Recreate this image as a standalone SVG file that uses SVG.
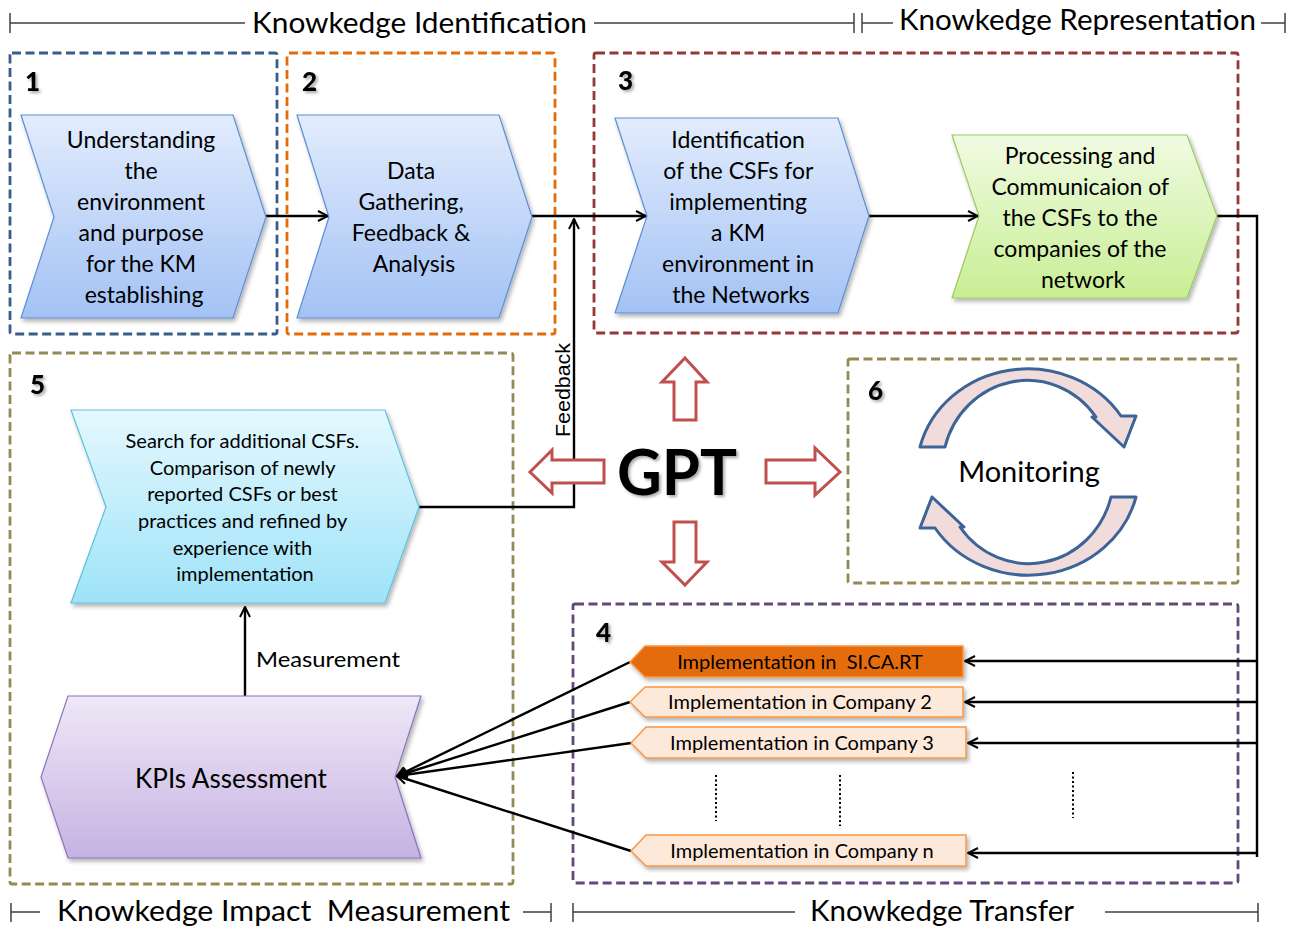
<svg xmlns="http://www.w3.org/2000/svg" width="1304" height="928" viewBox="0 0 1304 928">
  <defs>
    <linearGradient id="gBlue" x1="0" y1="0" x2="0" y2="1">
      <stop offset="0" stop-color="#E2ECFD"/>
      <stop offset="1" stop-color="#A3C2F4"/>
    </linearGradient>
    <linearGradient id="gGreen" x1="0" y1="0" x2="0" y2="1">
      <stop offset="0" stop-color="#F0FBE2"/>
      <stop offset="1" stop-color="#C8EE94"/>
    </linearGradient>
    <linearGradient id="gCyan" x1="0" y1="0" x2="0" y2="1">
      <stop offset="0" stop-color="#E4F8FE"/>
      <stop offset="1" stop-color="#9EE3F8"/>
    </linearGradient>
    <linearGradient id="gPurple" x1="0" y1="0" x2="0" y2="1">
      <stop offset="0" stop-color="#EEE8F7"/>
      <stop offset="1" stop-color="#C6B2E2"/>
    </linearGradient>
    <filter id="shadow" x="-10%" y="-10%" width="125%" height="130%">
      <feDropShadow dx="2" dy="3" stdDeviation="2" flood-color="#000" flood-opacity="0.3"/>
    </filter>
    <filter id="txtShadow" x="-20%" y="-20%" width="150%" height="150%">
      <feDropShadow dx="2" dy="2" stdDeviation="1.5" flood-color="#000" flood-opacity="0.35"/>
    </filter>
    <marker id="arr" viewBox="0 0 12 12" refX="11" refY="6" markerWidth="12" markerHeight="12" markerUnits="userSpaceOnUse" orient="auto">
      <path d="M1,1 L11,6 L1,11" fill="none" stroke="#000" stroke-width="2"/>
    </marker>
  </defs>
  <style>
    .t{font-family:Lato,"Liberation Sans",sans-serif;fill:#000}
    .c{text-anchor:middle}
    .num{font-family:Lato,"Liberation Sans",sans-serif;font-weight:900;font-size:26px;fill:#000}
    .box{fill:none;stroke-width:2.8;stroke-dasharray:9 4.5}
    .conn{fill:none;stroke:#000;stroke-width:2.4}
    .scale{fill:none;stroke:#404040;stroke-width:1.5}
    .blk{fill:#fff;stroke:#C0504D;stroke-width:3;stroke-linejoin:miter}
    .node23{font-size:23px}
    .small{font-size:20px}
    .phase{font-size:28px}
  </style>

  <rect width="1304" height="928" fill="#fff"/>

  <!-- phase scales along the top and bottom -->
  <g id="phases">
    <path class="scale" d="M10,13 V33 M10,23 H245 M594,23 H854 M854,13 V33 M862,13 V33 M862,23 H893 M1261,23 H1285 M1285,13 V33"/>
    <text class="t phase" x="252" y="33" textLength="335" lengthAdjust="spacingAndGlyphs">Knowkedge Identification</text>
    <text class="t phase" x="899" y="30" textLength="357" lengthAdjust="spacingAndGlyphs">Knowkedge Representation</text>
    <path class="scale" d="M11,903 V922 M11,912 H40 M523,912 H551 M551,903 V922 M573,903 V922 M573,912 H795 M1105,912 H1258 M1258,903 V922"/>
    <text class="t phase" x="57" y="921" textLength="453" lengthAdjust="spacingAndGlyphs">Knowkedge Impact&#160; Measurement</text>
    <text class="t phase" x="810" y="921" textLength="264" lengthAdjust="spacingAndGlyphs">Knowkedge Transfer</text>
  </g>

  <!-- dashed phase frames -->
  <g id="frames">
    <rect class="box" x="10" y="53" width="267" height="281" rx="2" stroke="#385D8A"/>
    <rect class="box" x="287" y="53" width="268" height="281" rx="2" stroke="#E36C09"/>
    <rect class="box" x="594" y="53" width="644" height="280" rx="2" stroke="#953735"/>
    <rect class="box" x="10" y="353" width="503" height="531" rx="2" stroke="#948A54"/>
    <rect class="box" x="848" y="359" width="390" height="224" rx="2" stroke="#948A54"/>
    <rect class="box" x="573" y="604" width="665" height="279" rx="2" stroke="#604A7B"/>
    <text class="num" x="25" y="91" filter="url(#txtShadow)">1</text>
    <text class="num" x="302" y="91" filter="url(#txtShadow)">2</text>
    <text class="num" x="618" y="90" filter="url(#txtShadow)">3</text>
    <text class="num" x="30" y="394" filter="url(#txtShadow)">5</text>
    <text class="num" x="868" y="400" filter="url(#txtShadow)">6</text>
    <text class="num" x="596" y="642" filter="url(#txtShadow)">4</text>
  </g>

  <!-- connectors -->
  <g id="connectors">
    <path class="conn" d="M266,216 H328" marker-end="url(#arr)"/>
    <path class="conn" d="M532,216 H646" marker-end="url(#arr)"/>
    <path class="conn" d="M869,216 H978" marker-end="url(#arr)"/>
    <path class="conn" d="M419,507 H574 V219" marker-end="url(#arr)"/>
    <path class="conn" d="M245,696 V607" marker-end="url(#arr)"/>
    <path class="conn" d="M1217,216 H1257 V857"/>
    <path class="conn" d="M1257,661 H965" marker-end="url(#arr)"/>
    <path class="conn" d="M1257,702 H965" marker-end="url(#arr)"/>
    <path class="conn" d="M1257,743 H968" marker-end="url(#arr)"/>
    <path class="conn" d="M1257,853 H968" marker-end="url(#arr)"/>
    <path class="conn" d="M630,662 L397,776" marker-end="url(#arr)"/>
    <path class="conn" d="M630,702 L397,776" marker-end="url(#arr)"/>
    <path class="conn" d="M631,743 L397,776" marker-end="url(#arr)"/>
    <path class="conn" d="M631,851 L397,776" marker-end="url(#arr)"/>
    <text class="t" x="570" y="390" transform="rotate(-90 570 390)" text-anchor="middle" style="font-family:'Liberation Sans',Arial,sans-serif;font-size:20px" textLength="94" lengthAdjust="spacingAndGlyphs">Feedback</text>
    <text class="t" x="256" y="667" style="font-size:21px" textLength="144" lengthAdjust="spacingAndGlyphs">Measurement</text>
    <path d="M716,775 V821 M840,775 V826 M1073,772 V818" fill="none" stroke="#000" stroke-width="2" stroke-dasharray="2 2.5"/>
  </g>

  <g id="node-understanding">
    <polygon points="21,115 233,115 266,217 233,318 21,318 54,217" fill="url(#gBlue)" stroke="#5B8FD6" stroke-width="1.2" filter="url(#shadow)"/>
    <text class="t c node23" x="144">
      <tspan x="144" y="148">Understanding</tspan>
      <tspan x="144" y="179">the</tspan>
      <tspan x="144" y="210">environment</tspan>
      <tspan x="144" y="241">and purpose</tspan>
      <tspan x="144" y="272">for the KM</tspan>
      <tspan x="144" y="303">establishing</tspan>
    </text>
  </g>

  <g id="node-data">
    <polygon points="297,115 499,115 532,217 499,318 297,318 329,217" fill="url(#gBlue)" stroke="#5B8FD6" stroke-width="1.2" filter="url(#shadow)"/>
    <text class="t c node23">
      <tspan x="414" y="179">Data</tspan>
      <tspan x="414" y="210">Gathering,</tspan>
      <tspan x="414" y="241">Feedback &amp;</tspan>
      <tspan x="414" y="272">Analysis</tspan>
    </text>
  </g>

  <g id="node-identification">
    <polygon points="615,118 838,118 869,216 838,313 615,313 647,216" fill="url(#gBlue)" stroke="#5B8FD6" stroke-width="1.2" filter="url(#shadow)"/>
    <text class="t c node23">
      <tspan x="741" y="148">Identification</tspan>
      <tspan x="741" y="179">of the CSFs for</tspan>
      <tspan x="741" y="210">implementing</tspan>
      <tspan x="741" y="241">a KM</tspan>
      <tspan x="741" y="272">environment in</tspan>
      <tspan x="741" y="303">the Networks</tspan>
    </text>
  </g>

  <g id="node-processing">
    <polygon points="952,135 1187,135 1217,216 1187,298 952,298 979,216" fill="url(#gGreen)" stroke="#9BCB5E" stroke-width="1.2" filter="url(#shadow)"/>
    <text class="t c node23">
      <tspan x="1083" y="164">Processing and</tspan>
      <tspan x="1083" y="195">Communicaion of</tspan>
      <tspan x="1083" y="226">the CSFs to the</tspan>
      <tspan x="1083" y="257">companies of the</tspan>
      <tspan x="1083" y="288">network</tspan>
    </text>
  </g>

  <g id="node-search">
    <polygon points="71,410 385,410 419,507 385,603 71,603 106,507" fill="url(#gCyan)" stroke="#5EC0DF" stroke-width="1.2" filter="url(#shadow)"/>
    <text class="t c small">
      <tspan x="245" y="448">Search for additional CSFs.</tspan>
      <tspan x="245" y="475">Comparison of newly</tspan>
      <tspan x="245" y="501">reported CSFs or best</tspan>
      <tspan x="245" y="528">practices and refined by</tspan>
      <tspan x="245" y="555">experience with</tspan>
      <tspan x="245" y="581">implementation</tspan>
    </text>
  </g>

  <g id="node-kpis">
    <polygon points="68,696 421,696 395,777 421,858 68,858 41,777" fill="url(#gPurple)" stroke="#8C72BD" stroke-width="1.2" filter="url(#shadow)"/>
    <text class="t c" x="231" y="788" style="font-size:26px">KPIs Assessment</text>
  </g>

  <g id="node-gpt">
    <path class="blk" d="M685,358 L707,382 L696,382 L696,420 L674,420 L674,382 L662,382 Z"/>
    <path class="blk" d="M685,585 L707,562 L696,562 L696,522 L674,522 L674,562 L662,562 Z"/>
    <path class="blk" d="M840,472 L815,448 L815,460 L766,460 L766,483 L815,483 L815,495 Z"/>
    <path class="blk" d="M530,472 L552,450 L552,460 L604,460 L604,483 L552,483 L552,493 Z"/>
    <text class="t" x="617" y="495" style="font-size:63px;font-weight:bold" textLength="120" lengthAdjust="spacingAndGlyphs" filter="url(#txtShadow)">GPT</text>
  </g>

  <g id="node-monitoring">
    <path d="M920,447 A111,103 0 0 1 1121,416 L1136,416 L1124,447 L1092,417 L1096,417 A85,89 0 0 0 945,447 Z" fill="#F2DCDB" stroke="#3D6496" stroke-width="3" stroke-linejoin="round"/>
    <path d="M1136,497 A111,103 0 0 1 935,528 L920,528 L932,497 L964,527 L960,527 A85,89 0 0 0 1111,497 Z" fill="#F2DCDB" stroke="#3D6496" stroke-width="3" stroke-linejoin="round"/>
    <text class="t c" x="1029" y="482" style="font-size:29px">Monitoring</text>
  </g>

  <g id="node-sicart">
    <polygon points="630,662 645,646 963,646 963,677 645,677" fill="#E46C0A" stroke="#F79646" stroke-width="1.5" filter="url(#shadow)"/>
    <text class="t c small" x="800" y="669">Implementation in&#160; SI.CA.RT</text>
  </g>
  <g id="node-company2">
    <polygon points="630,702 645,687 963,687 963,717 645,717" fill="#FDE9D9" stroke="#F79646" stroke-width="1.5" filter="url(#shadow)"/>
    <text class="t c small" x="800" y="709">Implementation in Company 2</text>
  </g>
  <g id="node-company3">
    <polygon points="631,743 646,727 966,727 966,758 646,758" fill="#FDE9D9" stroke="#F79646" stroke-width="1.5" filter="url(#shadow)"/>
    <text class="t c small" x="802" y="750">Implementation in Company 3</text>
  </g>
  <g id="node-companyn">
    <polygon points="631,851 646,835 966,835 966,866 646,866" fill="#FDE9D9" stroke="#F79646" stroke-width="1.5" filter="url(#shadow)"/>
    <text class="t c small" x="802" y="858">Implementation in Company n</text>
  </g>
</svg>
